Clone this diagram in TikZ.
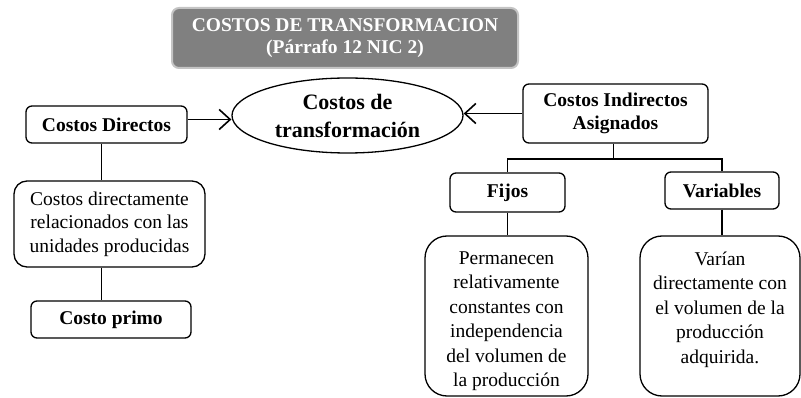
\documentclass[tikz,border=0pt]{standalone}
\usepackage{fontspec}
\setmainfont{Liberation Serif}
\usetikzlibrary{shapes.geometric, positioning, arrows.meta, calc}
\definecolor{titlebg}{RGB}{128,128,128}
\definecolor{titleframe}{RGB}{196,196,196}

\begin{document}
\begin{tikzpicture}[
        x=1pt, y=-1pt,
        titlebox/.style={rectangle, rounded corners=7pt, fill=titlebg, draw=titleframe, line width=2pt, text=white, align=center, inner sep=0pt, font=\bfseries\fontsize{19.5}{22}\selectfont},
        box/.style={draw, rectangle, rounded corners=6pt, line width=1.3pt, align=center, inner sep=0pt, font=\bfseries\fontsize{19.5}{23}\selectfont},
        descbox/.style={draw, rectangle, rounded corners=13pt, line width=1.3pt, align=center, inner sep=0pt, font=\fontsize{19.5}{23.5}\selectfont},
        bigbox/.style={descbox, rounded corners=22pt},
        desctext/.style={align=center, inner sep=0pt, font=\fontsize{19.5}{24.5}\selectfont},
        oval/.style={draw, ellipse, line width=1.3pt, align=center, inner sep=0pt, font=\bfseries\fontsize{22}{28}\selectfont},
        arr/.style={-{Straight Barb[length=11pt, width=20pt]}, line width=1.6pt},
        link/.style={line width=1.8pt}
    ]
    \useasboundingbox (0,0) rectangle (801,398);

    % Nodes
    \node[titlebox, minimum width=346pt, minimum height=60pt] (title) at (345,38) {COSTOS DE TRANSFORMACION\\(Párrafo 12 NIC 2)};
    \node[oval, minimum width=231pt, minimum height=75pt] (costos) at (347.5,115.5) {Costos de\\transformación};
    \node[box, minimum width=161pt, minimum height=37pt] (directos) at (106.5,124.5) {Costos Directos};
    \node[box, minimum width=185pt, minimum height=59pt] (indirectos) at (615.5,113.5) {Costos Indirectos\\Asignados};
    \node[descbox, minimum width=191pt, minimum height=86pt] (ddesc) at (109.5,224) {Costos directamente\\relacionados con las\\unidades producidas};
    \node[box, minimum width=160pt, minimum height=37pt] (primo) at (111,319.5) {Costo primo};
    \node[box, minimum width=115pt, minimum height=39pt] (fijos) at (507.5,192.5) {Fijos};
    \node[box, minimum width=114pt, minimum height=37pt] (variables) at (722,190.5) {Variables};
    \node[bigbox, minimum width=163pt, minimum height=160pt] (fdesc) at (506.5,316) {};
    \node[bigbox, minimum width=160pt, minimum height=160pt] (vdesc) at (720,316) {};
    \node[desctext, below=16pt of fdesc.north] (ftext) {Permanecen\\relativamente\\constantes con\\independencia\\del volumen de\\la producción};
    \node[desctext, below=16pt of vdesc.north] (vtext) {Varían\\directamente con\\el volumen de la\\producción\\adquirida.};

    % Arrows
    \draw[arr] ([yshift=5pt]directos.east) -- ([yshift=5pt]directos.east -| costos.west);
    \draw[arr] (indirectos.west) -- (indirectos.west -| costos.east);

    % Links
    \draw[link] ([xshift=-5pt]directos.south) -- ([xshift=-5pt]directos.south |- ddesc.north);
    \draw[link] ([xshift=-8pt]ddesc.south) -- ([xshift=-8pt]ddesc.south |- primo.north);
    \draw[link] ([xshift=-2pt]indirectos.south) -- ++(0,15) -| (fijos.north);
    \draw[link] ([xshift=-2pt]indirectos.south) ++(0,15) -| (variables.north);
    \draw[link] (fijos.south) -- (fijos.south |- fdesc.north);
    \draw[link] (variables.south) -- (variables.south |- vdesc.north);

\end{tikzpicture}
\end{document}
